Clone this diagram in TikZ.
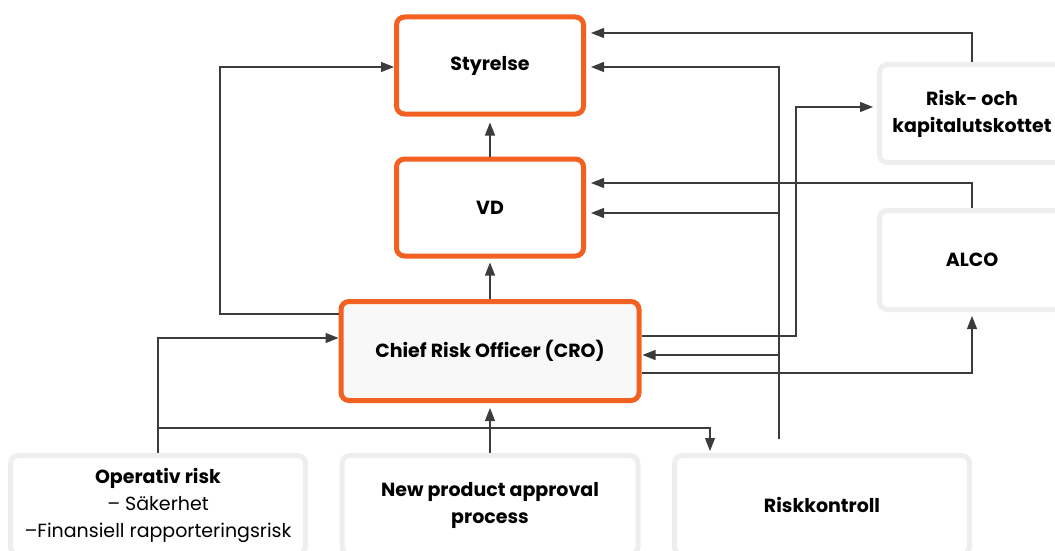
\documentclass[tikz,border=0pt]{standalone}
\usepackage{fontspec}
\setmainfont{Poppins}
\usetikzlibrary{arrows.meta,calc}
\definecolor{brand}{HTML}{F26122}
\definecolor{frame}{HTML}{EEEEEE}
\definecolor{wire}{HTML}{3C3C3C}
\definecolor{crofill}{HTML}{F8F8F8}
\begin{document}
\begin{tikzpicture}[x=1pt,y=-1pt,
  txt/.style={font=\bfseries\fontsize{19}{27}\selectfont, align=center, inner sep=0pt},
  lead/.style={txt, rounded corners=8pt, draw=brand, line width=5pt, fill=white,
    minimum width=187pt, minimum height=97pt},
  unit/.style={txt, rounded corners=8pt, draw=frame, line width=5pt, fill=white,
    minimum width=295pt, minimum height=99pt},
  link/.style={draw=wire, line width=1.1pt},
  arr/.style={link, -{Triangle[length=13pt,width=10pt]}}]
\useasboundingbox (0,0) rectangle (1055,551);

% governance chain
\node[lead] (sty) at (490,65.5) {Styrelse};
\node[lead] (vd) at (490,207.5) {VD};
\node[lead, fill=crofill, minimum width=298pt, minimum height=99pt] (cro) at (490,351)
  {Chief Risk Officer (CRO)};

% committees
\node[unit, minimum width=185pt, minimum height=98pt] (rkc) at (972,113.5)
  {Risk- och\\kapitalutskottet};
\node[unit, minimum width=185pt, minimum height=99pt] (alco) at (972,260) {ALCO};

% reporting units
\node[unit] (op) at (158,505)
  {Operativ risk\\{\mdseries – Säkerhet}\\{\mdseries –Finansiell rapporteringsrisk}};
\node[unit, minimum width=296pt] (npa) at (490,505) {New product approval\\process};
\node[unit] (rko) at (822,505) {Riskkontroll};

% routing levels
\coordinate (yA) at (0,33);
\coordinate (yB) at (0,67);
\coordinate (yC) at (0,107);
\coordinate (yD) at (0,183);
\coordinate (yE) at (0,213);
\coordinate (yF) at (0,314);
\coordinate (yG) at (0,336);
\coordinate (yH) at (0,338);
\coordinate (yI) at (0,355);
\coordinate (yJ) at (0,373);
\coordinate (yK) at (0,428);
\coordinate (xL) at (220,0);
\coordinate (xM) at (710,0);
\coordinate (xN) at (796,0);
\coordinate (rkTop) at (779,439);

% vertical chain
\draw[arr, shorten >=6pt] (vd.north) -- (sty.south);
\draw[arr, shorten >=4pt] (cro.north) -- (vd.south);
\draw[arr, shorten >=5pt] (npa.north) -- (cro.south);

% committees to board and CEO
\draw[arr, shorten >=5pt] (rkc.north) |- (sty.east |- yA);
\draw[arr, shorten >=5pt] (alco.north) |- (vd.east |- yD);

% risk control trunk
\draw[arr, shorten >=5pt] (rkTop) |- (sty.east |- yB);
\draw[arr, shorten >=5pt] (rkTop) |- (vd.east |- yE);
\draw[arr, shorten >=1pt] (rkTop) |- (cro.east |- yI);

% CRO outputs
\draw[arr, shorten >=4pt] (cro.east |- yG) -| (xN |- yC) -- (rkc.west |- yC);
\draw[arr, shorten >=4pt] (cro.east |- yJ) -| (alco.south);
\draw[arr] (cro.west |- yF) -| (xL |- yB) -- (sty.west |- yB);

% operational risk
\draw[arr] (op.north) |- (cro.west |- yH);
\draw[arr, shorten >=2pt] (op.north |- yK) -| (xM |- rko.north);
\end{tikzpicture}
\end{document}
